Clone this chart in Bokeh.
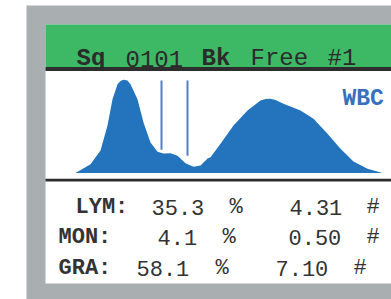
from bokeh.plotting import figure
from bokeh.models import Range1d
from bokeh.core.properties import value
from bokeh.embed import file_html
from bokeh.resources import INLINE

# ---------------- data ----------------
hist_channel = [0, 15, 25, 32, 37, 42, 45, 48, 52, 55, 62, 68, 75, 82, 88, 95, 102,
                110, 118, 125, 132, 135, 145, 158, 172, 185, 190, 195, 200, 208,
                225, 238, 252, 265, 278, 292, 307]
hist_count = [0, 8.8, 22.5, 47.5, 73.8, 88.8, 92.0, 93.2, 92.4, 88.8, 73.8, 50.5,
              30.5, 21.2, 19.5, 19.8, 17.2, 9.8, 6.2, 7.5, 14.5, 15.8, 29.2, 47.5,
              62.5, 72.5, 74.0, 74.2, 73.0, 69.2, 62.5, 54.2, 39.2, 24.2, 11.5,
              4.2, 0]
disc_channel = [86, 112]
disc_top = [92.5, 92.5]
disc_bottom = [23.2, 17.2]

labels = ["LYM:", "MON:", "GRA:"]
percent = [35.3, 4.1, 58.1]
absolute = [4.31, 0.50, 7.10]

title_parts = ["Sq", "0101", "Bk", "Free", "#1"]
title_bold = [True, False, True, False, False]
hist_label = "WBC"

# ---------------- layout ----------------
W, H = 391, 299
FONT = "Liberation Mono"
GRAY = "#a9aeb1"
GREEN = "#3db865"
DARK = "#2d2d2d"
FILL = "#2474bd"
LINE = "#5080c8"
TXT = "#333333"

p = figure(width=W, height=H, output_backend="svg", toolbar_location=None,
           x_range=Range1d(0, W), y_range=Range1d(H, 0),
           min_border=0, background_fill_color="white", border_fill_color="white")
p.axis.visible = False
p.grid.visible = False
p.outline_line_color = None

# histogram mapping (channel -> px, count -> px)
ch0_px, ch_scale = 75.0, 1.0
c0_px, c_scale = 172.5, 1.0
p.extra_x_ranges = {"hx": Range1d(-ch0_px / ch_scale, (W - ch0_px) / ch_scale)}
p.extra_y_ranges = {"hy": Range1d(-(H - c0_px) / c_scale, c0_px / c_scale)}

# panels
p.quad(left=[26, 45, 45, 45, 45], right=[400, 400, 400, 400, 400],
       top=[5, 24, 24, 66.5, 178.3], bottom=[310, 283, 66.5, 70.5, 181],
       fill_color=[GRAY, "white", GREEN, DARK, DARK], line_color=None)

# histogram
p.varea(x=hist_channel, y1=0, y2=hist_count, x_range_name="hx", y_range_name="hy",
        fill_color=FILL)
p.segment(x0=disc_channel, y0=disc_bottom, x1=disc_channel, y1=disc_top,
          x_range_name="hx", y_range_name="hy", line_color=LINE, line_width=2)

# title
title_x = [76, 125, 201, 250, 327]
for t, b, x in zip(title_parts, title_bold, title_x):
    p.text(x=[x], y=[58], text=[t], text_font=value(FONT), text_font_size="24px",
           text_font_style="bold" if b else "normal", text_color="#2b2b2b",
           text_baseline="alphabetic", text_align="left")

p.text(x=[342], y=[98], text=[hist_label], text_font=value(FONT), text_font_size="23px",
       text_font_style="bold", text_color="#3a6fc0", text_baseline="alphabetic")

# rows
row_y = [207, 237, 268]
lab_x = [75, 58, 58]
pct_x = [151, 157, 136]
pcs_x = [229, 222, 215]
abs_x = [289, 288, 275]
hsh_x = [366, 366, 353]
for i in range(3):
    y = row_y[i]
    for x, t, st in [(lab_x[i], labels[i], "bold"),
                     (pct_x[i], "%.1f" % percent[i], "normal"),
                     (pcs_x[i], "%", "normal"),
                     (abs_x[i], "%.2f" % absolute[i], "normal"),
                     (hsh_x[i], "#", "normal")]:
        p.text(x=[x], y=[y], text=[t], text_font=value(FONT), text_font_size="22px",
               text_font_style=st, text_color=TXT, text_baseline="alphabetic",
               text_align="left")

open("out.html", "w").write(file_html(p, INLINE))
